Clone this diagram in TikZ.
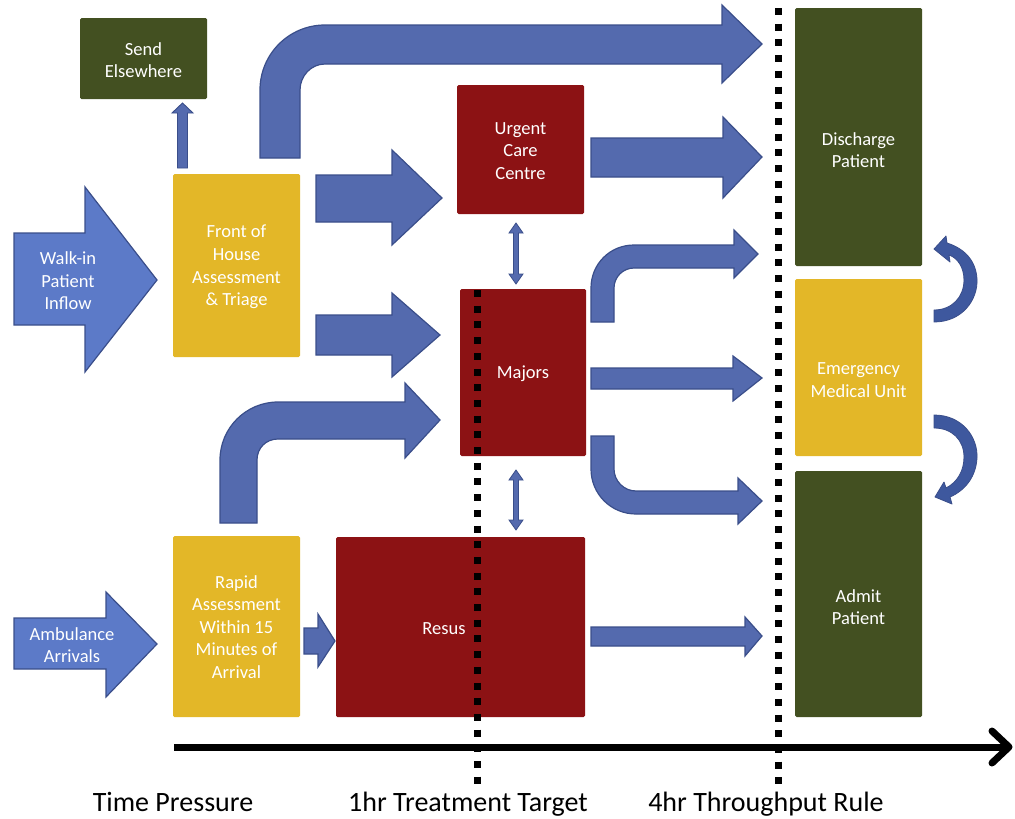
\documentclass[tikz,border=0pt]{standalone}
\usepackage{fontspec}
\setmainfont{Carlito}
\usetikzlibrary{calc}
\definecolor{olivebox}{RGB}{67,80,33}
\definecolor{yellowbox}{RGB}{227,183,40}
\definecolor{redbox}{RGB}{140,18,20}
\definecolor{arrowfill}{RGB}{84,106,174}
\definecolor{arrowline}{RGB}{58,78,138}
\definecolor{inflowfill}{RGB}{92,122,200}
\definecolor{crescfill}{RGB}{62,88,158}
\begin{document}
\begin{tikzpicture}[x=1pt,y=-1pt,
  box/.style={rectangle, rounded corners=1.5pt, inner sep=0pt, draw=none},
  btext/.style={text=white, font=\fontsize{18.5}{22.6}\selectfont, align=center, inner sep=0pt},
  blockarrow/.style={fill=arrowfill, draw=arrowline, line width=1.2pt, line join=miter},
  inflow/.style={fill=inflowfill, draw=arrowline, line width=1.2pt, line join=miter},
  cresc/.style={fill=crescfill, draw=arrowline, line width=0.8pt, line join=round},
  dotline/.style={line width=7pt, dash pattern=on 7pt off 8.7pt, black},
  axisline/.style={line width=7pt, black},
  steplabel/.style={font=\fontsize{28}{31}\selectfont, anchor=base, inner sep=0pt, text=black}]
\useasboundingbox (0,0) rectangle (1015,819);

% boxes
\node[box, fill=olivebox, minimum width=127pt, minimum height=81pt] (send) at (143.5,58.5) {};
\node[box, fill=yellowbox, minimum width=127pt, minimum height=183pt] (foh) at (236.5,265.5) {};
\node[box, fill=redbox, minimum width=127pt, minimum height=129pt] (ucc) at (520.5,149.5) {};
\node[box, fill=redbox, minimum width=126pt, minimum height=167pt] (majors) at (523,372.5) {};
\node[box, fill=redbox, minimum width=249pt, minimum height=180pt] (resus) at (460.5,627) {};
\node[box, fill=yellowbox, minimum width=127pt, minimum height=181pt] (rapid) at (236.5,626.5) {};
\node[box, fill=olivebox, minimum width=127pt, minimum height=258pt] (dis) at (858.5,137) {};
\node[box, fill=yellowbox, minimum width=127pt, minimum height=177pt] (emu) at (858.5,367.5) {};
\node[box, fill=olivebox, minimum width=127pt, minimum height=246pt] (admit) at (858.5,594) {};

% inflow arrows
\draw[inflow] (14,233) -- (85,233) -- (85,187) -- (157,280) -- (85,372) -- (85,325) -- (14,325) -- cycle;
\draw[inflow] (14,618) -- (106,618) -- (106,592) -- (157,644) -- (106,697) -- (106,669) -- (14,669) -- cycle;

% small up arrow foh -> send
\draw[blockarrow, line width=0.9pt] (177.5,168) -- (177.5,113) -- (172,113) -- (182.5,103) -- (193,113) -- (187.5,113) -- (187.5,168) -- cycle;

% bent arrow foh -> discharge (top)
\draw[blockarrow] (260,158) -- (260,90) .. controls (260,54) and (289,25) .. (325,25) -- (722,25) -- (722,5) -- (762,44) -- (722,83) -- (722,64) -- (325,64) .. controls (311,64) and (300,76) .. (300,90) -- (300,158) -- cycle;

% straight arrows
\draw[blockarrow] (316,175) -- (392,175) -- (392,150) -- (442,198) -- (392,245) -- (392,222) -- (316,222) -- cycle;
\draw[blockarrow] (316,315) -- (392,315) -- (392,293) -- (440,335) -- (392,377) -- (392,355) -- (316,355) -- cycle;
\draw[blockarrow] (591,138) -- (723,138) -- (723,117) -- (762,157) -- (723,198) -- (723,177) -- (591,177) -- cycle;
\draw[blockarrow] (591,368) -- (733,368) -- (733,356) -- (762,378) -- (733,401) -- (733,389) -- (591,389) -- cycle;
\draw[blockarrow] (591,627) -- (745,627) -- (745,617) -- (762,636) -- (745,656) -- (745,646) -- (591,646) -- cycle;
\draw[blockarrow] (304,628) -- (318,628) -- (318,614) -- (335,641) -- (318,667) -- (318,654) -- (304,654) -- cycle;

% bent arrows from majors
\draw[blockarrow] (591,322) -- (591,288) .. controls (591,264) and (610,245) .. (634,245) -- (734,245) -- (734,230) -- (758,254) -- (734,278) -- (734,268) -- (634,268) .. controls (623,268) and (614,277) .. (614,288) -- (614,322) -- cycle;
\draw[blockarrow] (591,436) -- (591,469) .. controls (591,494) and (611,514) .. (636,514) -- (738,514) -- (738,524) -- (762,501) -- (738,478) -- (738,491) -- (636,491) .. controls (624,491) and (614,481) .. (614,469) -- (614,436) -- cycle;

% bent arrow rapid -> majors
\draw[blockarrow] (220,523) -- (220,460) .. controls (220,428) and (246,402) .. (278,402) -- (405,402) -- (405,383) -- (440,420) -- (405,458) -- (405,439) -- (278,439) .. controls (266,439) and (257,448) .. (257,460) -- (257,523) -- cycle;

% double arrows
\draw[blockarrow, line width=0.8pt] (516,223) -- (523,233) -- (518.5,233) -- (518.5,274) -- (523,274) -- (516,284) -- (509,274) -- (513.5,274) -- (513.5,233) -- (509,233) -- cycle;
\draw[blockarrow, line width=0.8pt] (516,470) -- (523,480) -- (518.5,480) -- (518.5,520) -- (523,520) -- (516,530) -- (509,520) -- (513.5,520) -- (513.5,480) -- (509,480) -- cycle;

% curved arrows on the right
\draw[cresc] (934,322) .. controls (962,322) and (978,300) .. (977,279) .. controls (976,262) and (966,249) .. (947,243) -- (946,236) -- (934,249) -- (950,262) -- (949,255) .. controls (958,258) and (964,268) .. (964,280) .. controls (964,297) and (952,310) .. (934,310) -- cycle;
\draw[cresc] (934,415) .. controls (962,415) and (978,437) .. (977,458) .. controls (976,476) and (966,490) .. (950,497) -- (952,504) -- (935,497) -- (944,482) -- (946,488) .. controls (958,482) and (964,470) .. (964,457) .. controls (964,440) and (952,428) .. (934,428) -- cycle;

% box texts
\node[btext] (tsend) at (143.5,60) {Send\\Elsewhere};
\node[btext] (tfoh) at (236.5,267) {Front of\\House\\Assessment\\\& Triage};
\node[btext] (tucc) at (520.5,151) {Urgent\\Care\\Centre};
\node[btext] (tmaj) at (523,374) {Majors};
\node[btext] (tres) at (444,629) {Resus};
\node[btext] (trap) at (236.5,627) {Rapid\\Assessment\\Within 15\\Minutes of\\Arrival};
\node[btext] (tdis) at (858.5,150) {Discharge\\Patient};
\node[btext] (temu) at (858.5,380) {Emergency\\Medical Unit};
\node[btext] (tadm) at (858.5,607) {Admit\\Patient};
\node[btext] (twalk) at (68,281) {Walk-in\\Patient\\Inflow};
\node[btext] (tamb) at (72,645) {Ambulance\\Arrivals};

% dotted time lines
\coordinate (l1top) at (477,290);
\coordinate (l1bot) at (477,788);
\coordinate (l4top) at (778,8);
\coordinate (l4bot) at (778,788);
\draw[dotline] (l1top) -- (l1bot);
\draw[dotline] (l4top) -- (l4bot);

% time axis
\coordinate (axstart) at (174,747);
\coordinate (axend) at (1009,747);
\draw[axisline] (axstart) -- (axend);
\draw[axisline, line cap=round, line join=round] ($(axend)+(-17,-16)$) -- (axend) -- ($(axend)+(-17,16)$);

% bottom labels
\node[steplabel] (lab1) at (173,811) {Time Pressure};
\node[steplabel] (lab2) at (468,811) {1hr Treatment Target};
\node[steplabel] (lab3) at (766,811) {4hr Throughput Rule};
\end{tikzpicture}
\end{document}
